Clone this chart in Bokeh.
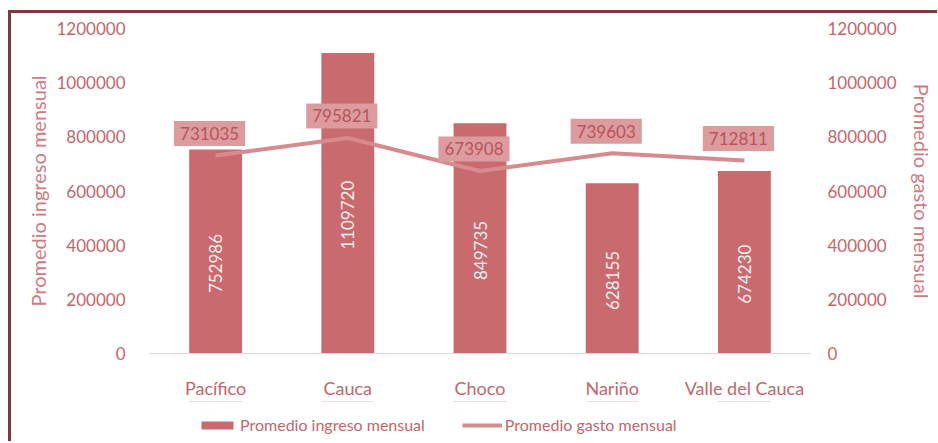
import math
from bokeh.plotting import figure
from bokeh.layouts import column
from bokeh.models import (ColumnDataSource, FactorRange, Range1d, LinearAxis, FixedTicker,
                          BasicTickFormatter, Legend, LegendItem)
from bokeh.core.properties import value
from bokeh.embed import file_html
from bokeh.resources import INLINE

categories = ["Pacífico", "Cauca", "Choco", "Nariño", "Valle del Cauca"]
ingreso = [752986, 1109720, 849735, 628155, 674230]
gasto = [731035, 795821, 673908, 739603, 712811]
y_ticks = [0, 200000, 400000, 600000, 800000, 1000000, 1200000]
bar_name = "Promedio ingreso mensual"
line_name = "Promedio gasto mensual"

FONT = "Lato"
BAR = "#c96a6f"
LINE = "#d88a8e"
BOX = "#dc9b9e"
TXT = "#c4666c"
TITLE = "#d07a7f"

src = ColumnDataSource(dict(
    cat=categories,
    ingreso=ingreso,
    ingreso_mid=[v / 2 for v in ingreso],
    ingreso_txt=[str(v) for v in ingreso],
    gasto=gasto,
    gasto_txt=[str(v) for v in gasto],
))

W = 926
p = figure(width=W, height=388, x_range=FactorRange(*categories),
           y_range=Range1d(0, 1200000), output_backend="svg", toolbar_location=None,
           min_border_left=138, min_border_right=127, min_border_top=15, min_border_bottom=45)
p.outline_line_color = None
p.xgrid.visible = False
p.ygrid.visible = False
p.extra_y_ranges = {"right": Range1d(0, 1200000)}

bars = p.vbar(x="cat", top="ingreso", width=0.4, source=src, fill_color=BAR, line_color=None)
line = p.line(x="cat", y="gasto", source=src, line_color=LINE, line_width=4)

# bar value labels (rotated)
p.text(x="cat", y="ingreso_mid", text="ingreso_txt", source=src, angle=math.pi / 2,
       text_align="center", text_baseline="middle", y_offset=12,
       text_font=value(FONT), text_font_size="17px", text_color="#f9ecec")

# line value labels in boxes
p.text(x="cat", y="gasto", text="gasto_txt", source=src, text_align="center",
       text_baseline="middle", y_offset=-22, x_offset=-6,
       text_font=value(FONT), text_font_size="17px", text_color="#b9545b",
       background_fill_color=BOX, padding=dict(left=6, right=6, top=6, bottom=6))

def style_y(ax):
    ax.ticker = FixedTicker(ticks=y_ticks)
    ax.formatter = BasicTickFormatter(use_scientific=False)
    ax.axis_line_color = None
    ax.major_tick_line_color = None
    ax.minor_tick_line_color = None
    ax.major_label_standoff = 18
    ax.major_label_text_font = FONT
    ax.major_label_text_font_size = "17px"
    ax.major_label_text_color = TXT
    ax.axis_label_text_font = FONT
    ax.axis_label_text_font_size = "20px"
    ax.axis_label_text_font_style = "normal"
    ax.axis_label_text_color = TITLE
    ax.axis_label_standoff = 3

yl = p.yaxis[0]
style_y(yl)
yl.axis_label = bar_name

yr = LinearAxis(y_range_name="right")
style_y(yr)
yr.major_label_standoff = 11
yr.axis_label = line_name
yr.axis_label_orientation = "vertical"
yr.axis_label_standoff = 10
p.add_layout(yr, "right")

xa = p.xaxis[0]
xa.axis_line_color = "#d9d9d9"
xa.axis_line_width = 1
xa.major_tick_line_color = None
xa.minor_tick_line_color = None
xa.major_label_standoff = 17
xa.major_label_text_font = FONT
xa.major_label_text_font_size = "18px"
xa.major_label_text_color = TXT

# legend strip below the chart (series drawn outside its visible range; only the legend shows)
lg = figure(width=W, height=40, x_range=FactorRange(*categories), y_range=Range1d(-2, -1),
            x_axis_type=None, y_axis_type=None, output_backend="svg", toolbar_location=None,
            min_border_left=0, min_border_right=0, min_border_top=0, min_border_bottom=0)
lg.outline_line_color = None
lg.xgrid.visible = False
lg.ygrid.visible = False
lbar = lg.vbar(x="cat", top="ingreso", width=0.4, source=src, fill_color=BAR, line_color=None)
lline = lg.line(x="cat", y="gasto", source=src, line_color=LINE, line_width=4)
legend = Legend(items=[LegendItem(label=bar_name, renderers=[lbar]),
                       LegendItem(label=line_name, renderers=[lline])],
                orientation="horizontal", location=(48, 7),
                glyph_width=40, glyph_height=10, label_standoff=3, spacing=37,
                padding=0, margin=0, border_line_color=None, background_fill_alpha=0,
                label_text_font=FONT, label_text_font_size="16px", label_text_color=TXT)
lg.add_layout(legend, "center")

layout = column(p, lg, spacing=0)
layout.styles = {"border-top": "3px solid #7b3a3c", "border-left": "3px solid #7b3a3c",
                 "margin-left": "8px", "margin-top": "10px"}

open("out.html", "w").write(file_html(layout, INLINE))
